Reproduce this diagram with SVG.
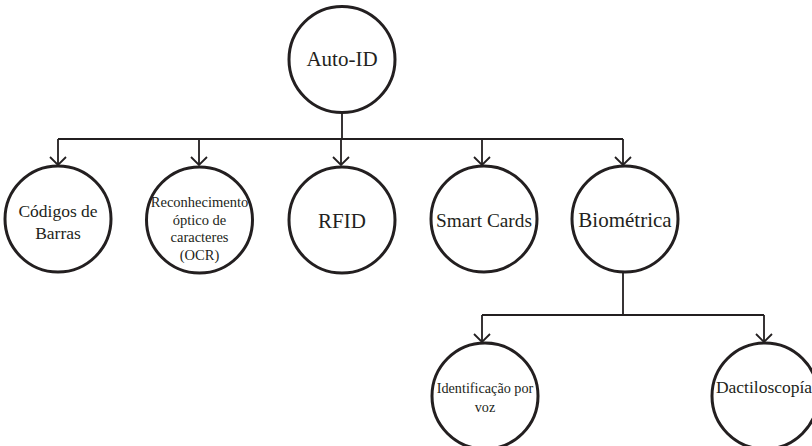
<svg xmlns="http://www.w3.org/2000/svg" width="812" height="446" viewBox="0 0 812 446">
<rect width="812" height="446" fill="#ffffff"/>
<g id="connectors" fill="none" stroke="#231f20" stroke-width="1.8">
<path d="M342 113 V139 M58 139 H623 M58 139 V165 M199 139 V165 M341 139 V165 M482 139 V165 M623 139 V165"/>
<path d="M623 273 V315 M482 315 H764 M482 315 V342 M764 315 V342"/>
<path d="M50 157 L58 165 L66 157 M191 157 L199 165 L207 157 M333 157 L341 165 L349 157 M474 157 L482 165 L490 157 M615 157 L623 165 L631 157"/>
<path d="M474 334 L482 342 L490 334 M756 334 L764 342 L772 334"/>
</g>
<g id="auto-id">
<circle cx="342" cy="59.5" r="53" fill="#ffffff" stroke="#231f20" stroke-width="3"/>
<text x="342" y="66" font-family="Liberation Serif" font-size="21" fill="#231f20" text-anchor="middle">Auto-ID</text>
</g>
<g id="codigos">
<circle cx="58" cy="219" r="53" fill="#ffffff" stroke="#231f20" stroke-width="3"/>
<text x="58" y="217" font-family="Liberation Serif" font-size="17.5" fill="#231f20" text-anchor="middle">Códigos de</text>
<text x="58" y="239" font-family="Liberation Serif" font-size="17.5" fill="#231f20" text-anchor="middle">Barras</text>
</g>
<g id="ocr">
<circle cx="199.5" cy="220" r="53" fill="#ffffff" stroke="#231f20" stroke-width="3"/>
<text x="199.5" y="207" font-family="Liberation Serif" font-size="14.5" fill="#231f20" text-anchor="middle">Reconhecimento</text>
<text x="199.5" y="224.5" font-family="Liberation Serif" font-size="14.5" fill="#231f20" text-anchor="middle">óptico de</text>
<text x="199.5" y="242" font-family="Liberation Serif" font-size="14.5" fill="#231f20" text-anchor="middle">caracteres</text>
<text x="199.5" y="259.5" font-family="Liberation Serif" font-size="14.5" fill="#231f20" text-anchor="middle">(OCR)</text>
</g>
<g id="rfid">
<circle cx="342" cy="220" r="53" fill="#ffffff" stroke="#231f20" stroke-width="3"/>
<text x="342" y="228" font-family="Liberation Serif" font-size="21" fill="#231f20" text-anchor="middle">RFID</text>
</g>
<g id="smart-cards">
<circle cx="484" cy="219" r="53" fill="#ffffff" stroke="#231f20" stroke-width="3"/>
<text x="484" y="227" font-family="Liberation Serif" font-size="19.3" fill="#231f20" text-anchor="middle">Smart Cards</text>
</g>
<g id="biometrica">
<circle cx="625" cy="219" r="53" fill="#ffffff" stroke="#231f20" stroke-width="3"/>
<text x="625" y="227" font-family="Liberation Serif" font-size="21" fill="#231f20" text-anchor="middle">Biométrica</text>
</g>
<g id="voz">
<circle cx="485" cy="396" r="53" fill="#ffffff" stroke="#231f20" stroke-width="3"/>
<text x="485" y="393" font-family="Liberation Serif" font-size="14.2" fill="#231f20" text-anchor="middle">Identificação por</text>
<text x="485" y="412" font-family="Liberation Serif" font-size="14.2" fill="#231f20" text-anchor="middle">voz</text>
</g>
<g id="dactiloscopia">
<circle cx="765" cy="396" r="53" fill="#ffffff" stroke="#231f20" stroke-width="3"/>
<text x="764" y="393" font-family="Liberation Serif" font-size="17.5" fill="#231f20" text-anchor="middle">Dactiloscopía</text>
</g>
</svg>
